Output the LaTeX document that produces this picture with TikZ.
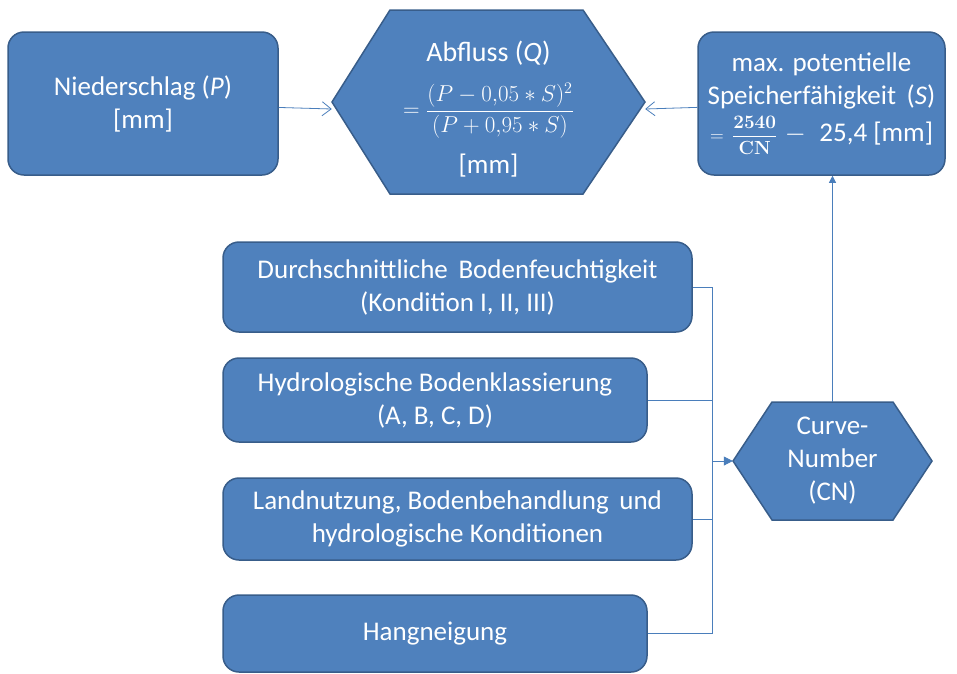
\RequirePackage{fix-cm}
\documentclass[tikz,border=0pt]{standalone}
\usepackage{amsmath}
\usepackage[no-math]{fontspec}
\setmainfont{Carlito}
\usetikzlibrary{arrows.meta}
\definecolor{boxblue}{HTML}{4F81BD}
\definecolor{boxedge}{HTML}{385D8A}
\definecolor{linkblue}{HTML}{4A7EBB}

\begin{document}
\begin{tikzpicture}[x=1pt,y=-1pt,
    box/.style={draw=boxedge, line width=1.5pt, fill=boxblue, rounded corners=16pt,
        text=white, align=center, inner sep=2pt, font=\fontsize{27}{33}\selectfont},
    hexa/.style={draw=boxedge, line width=1.5pt, fill=boxblue},
    hexatext/.style={text=white, align=center, inner sep=0pt, font=\fontsize{27}{33}\selectfont},
    link/.style={draw=linkblue, line width=0.8pt}]
\useasboundingbox (0,0) rectangle (957,673);

% upper row
\node[box, minimum width=270pt, minimum height=143pt] (nieder) at (143,103.5)
    {Niederschlag (\textit{P})\\{[mm]}};
\draw[hexa] (332,102) -- (390,10) -- (583,10) -- (645,102) -- (583,194) -- (390,194) -- cycle;
\node[hexatext, minimum width=313pt, minimum height=184pt] (abfluss) at (488.5,109)
    {{\fontsize{28}{33}\selectfont Abfluss (\textit{Q})}\\[16pt]
     {\fontsize{23}{27}\selectfont $=\dfrac{(P-0{,}05\ast S)^2}{(P+0{,}95\ast S)}$}\\[14pt]
     {[mm]}};
\node[box, minimum width=247pt, minimum height=143pt] (speicher) at (821.5,103.5)
    {max. potentielle\\Speicherfähigkeit \,(\textit{S})\\[4pt]
     {\fontsize{19}{22}\selectfont $=\,\dfrac{\mathbf{2540}}{\mathbf{CN}}$}\;$-$\; 25,4 [mm]};

% lower part
\draw[hexa] (733,461) -- (772,402) -- (893,402) -- (932,461) -- (893,520) -- (772,520) -- cycle;
\node[hexatext, minimum width=199pt, minimum height=118pt] (cn) at (832.5,461)
    {Curve-\\Number\\(CN)};

\node[box, minimum width=469pt, minimum height=90pt] (feuchte) at (457.5,287)
    {Durchschnittliche \,Bodenfeuchtigkeit\\(Kondition I, II, III)};
\node[box, minimum width=424pt, minimum height=84pt] (klasse) at (435,400)
    {Hydrologische Bodenklassierung\\(A, B, C, D)};
\node[box, minimum width=469pt, minimum height=82pt] (nutzung) at (457.5,519)
    {Landnutzung, Bodenbehandlung \,und\\hydrologische Konditionen};
\node[box, minimum width=424pt, minimum height=77pt] (hang) at (435,633.5)
    {Hangneigung};

\coordinate (bus) at (712,461);

% connectors
\draw[link, -{Straight Barb[length=9pt,width=14pt]}] (nieder) -- (abfluss.west);
\draw[link, -{Straight Barb[length=9pt,width=14pt]}] (speicher) -- (abfluss.east);
\draw[link, -{Triangle[length=7pt,width=7pt]}] (cn.north) -- (cn.north |- speicher.south);
\draw[link] (feuchte.east) -- (feuchte.east -| bus) -- (hang.east -| bus) -- (hang.east);
\draw[link] (klasse.east) -- (klasse.east -| bus);
\draw[link] (nutzung.east) -- (nutzung.east -| bus);
\draw[link, -{Triangle[length=9pt,width=9pt]}] (bus) -- (cn.west);
\end{tikzpicture}
\end{document}
